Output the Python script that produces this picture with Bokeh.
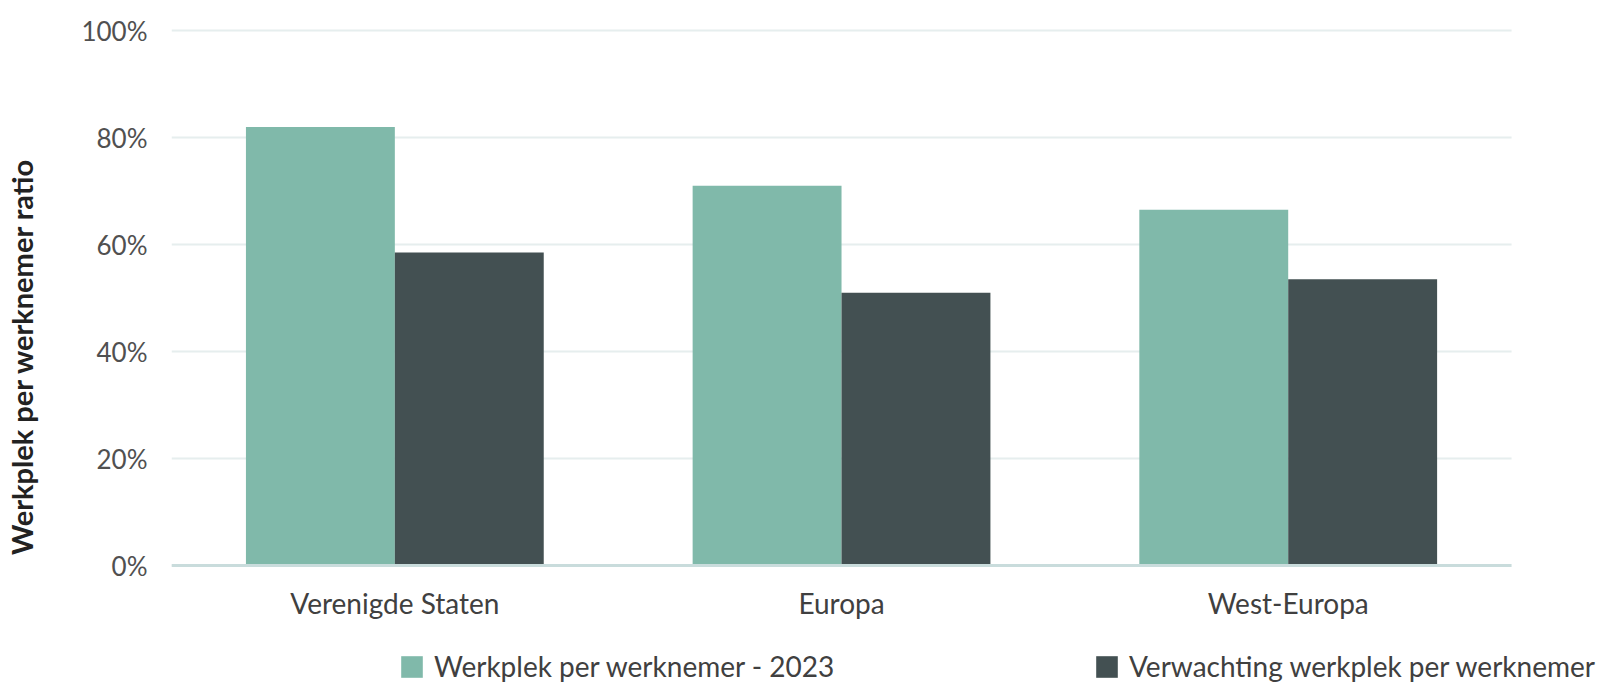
from bokeh.plotting import figure
from bokeh.models import (ColumnDataSource, Range1d, FixedTicker, PrintfTickFormatter,
                          Span, Legend, LegendItem, BoxAnnotation, LinearAxis)
from bokeh.core.properties import value
from bokeh.transform import dodge
from bokeh.embed import file_html
from bokeh.resources import INLINE

regions = ["Verenigde Staten", "Europa", "West-Europa"]
ratio_2023 = [82, 71, 66.5]
ratio_expected = [58.5, 51, 53.5]
y_ticks = [0, 20, 40, 60, 80, 100]
series_names = ["Werkplek per werknemer - 2023", "Verwachting werkplek per werknemer"]
y_title = "Werkplek per werknemer ratio"

teal = "#80b9aa"
dark = "#435052"
FONT = "Lato"

W, H = 1597, 684
LEFT = 170
CAT_PX = 447

pos = list(range(len(regions)))
source = ColumnDataSource(data=dict(pos=pos, region=regions, now=ratio_2023,
                                    expected=ratio_expected,
                                    label_y=[-7.0] * len(regions)))

# frame runs to the right edge and down to the legend row, so the legend is not clipped
p = figure(x_range=Range1d(-0.5, -0.5 + (W - LEFT) / CAT_PX), y_range=Range1d(-22.24, 100.4),
           width=W, height=H, output_backend="svg", toolbar_location=None,
           min_border_left=LEFT, min_border_right=0, min_border_top=28, min_border_bottom=0)
p.outline_line_color = None
p.xaxis.visible = False

r1 = p.vbar(x=dodge("pos", -1/6), top="now", width=1/3,
            source=source, fill_color=teal, line_color=None)
r2 = p.vbar(x=dodge("pos", 1/6), top="expected", width=1/3,
            source=source, fill_color=dark, line_color=None)

p.text(x="pos", y="label_y", text="region", source=source,
       text_font=value(FONT), text_font_size="28px", text_color="#404040",
       text_align="center", text_baseline="middle")

p.add_layout(Span(location=0, dimension="width", line_color="#c9dcdc", line_width=3))

p.xgrid.grid_line_color = None
p.ygrid.grid_line_color = "#e6eeee"
p.ygrid.grid_line_width = 2

# blank out grid past the last category, like the reference
p.add_layout(BoxAnnotation(left=len(regions) - 0.5, fill_color="white", fill_alpha=1,
                           line_alpha=0))

p.yaxis.ticker = FixedTicker(ticks=y_ticks)
p.yaxis.formatter = PrintfTickFormatter(format="%d%%")
p.yaxis.axis_line_color = None
p.yaxis.major_tick_line_color = None
p.yaxis.minor_tick_line_color = None
p.yaxis.major_label_text_font = FONT
p.yaxis.major_label_text_font_size = "26px"
p.yaxis.major_label_text_color = "#505050"
p.yaxis.major_label_standoff = 18

# the y title sits low in the reference: a bare axis whose bounds centre it there
title_axis = LinearAxis(axis_label=y_title, bounds=(-22.24, 52.14),
                        ticker=FixedTicker(ticks=[]), axis_line_color=None,
                        major_tick_line_color=None, minor_tick_line_color=None,
                        major_tick_out=0, major_label_standoff=0,
                        axis_label_standoff=40, axis_label_text_font=FONT,
                        axis_label_text_font_size="29px", axis_label_text_font_style="bold",
                        axis_label_text_color="#222222")
p.add_layout(title_axis, "left")

legend = Legend(items=[LegendItem(label=series_names[0], renderers=[r1]),
                       LegendItem(label=series_names[1], renderers=[r2])],
                orientation="horizontal", location=(227, 1),
                glyph_width=27, glyph_height=27, label_standoff=9, label_width=659,
                spacing=0, padding=0, margin=0,
                border_line_color=None, background_fill_alpha=0,
                label_text_font=FONT, label_text_font_size="28px",
                label_text_color="#404040", label_height=27)
p.add_layout(legend, "center")

open("out.html", "w").write(file_html(p, INLINE))
